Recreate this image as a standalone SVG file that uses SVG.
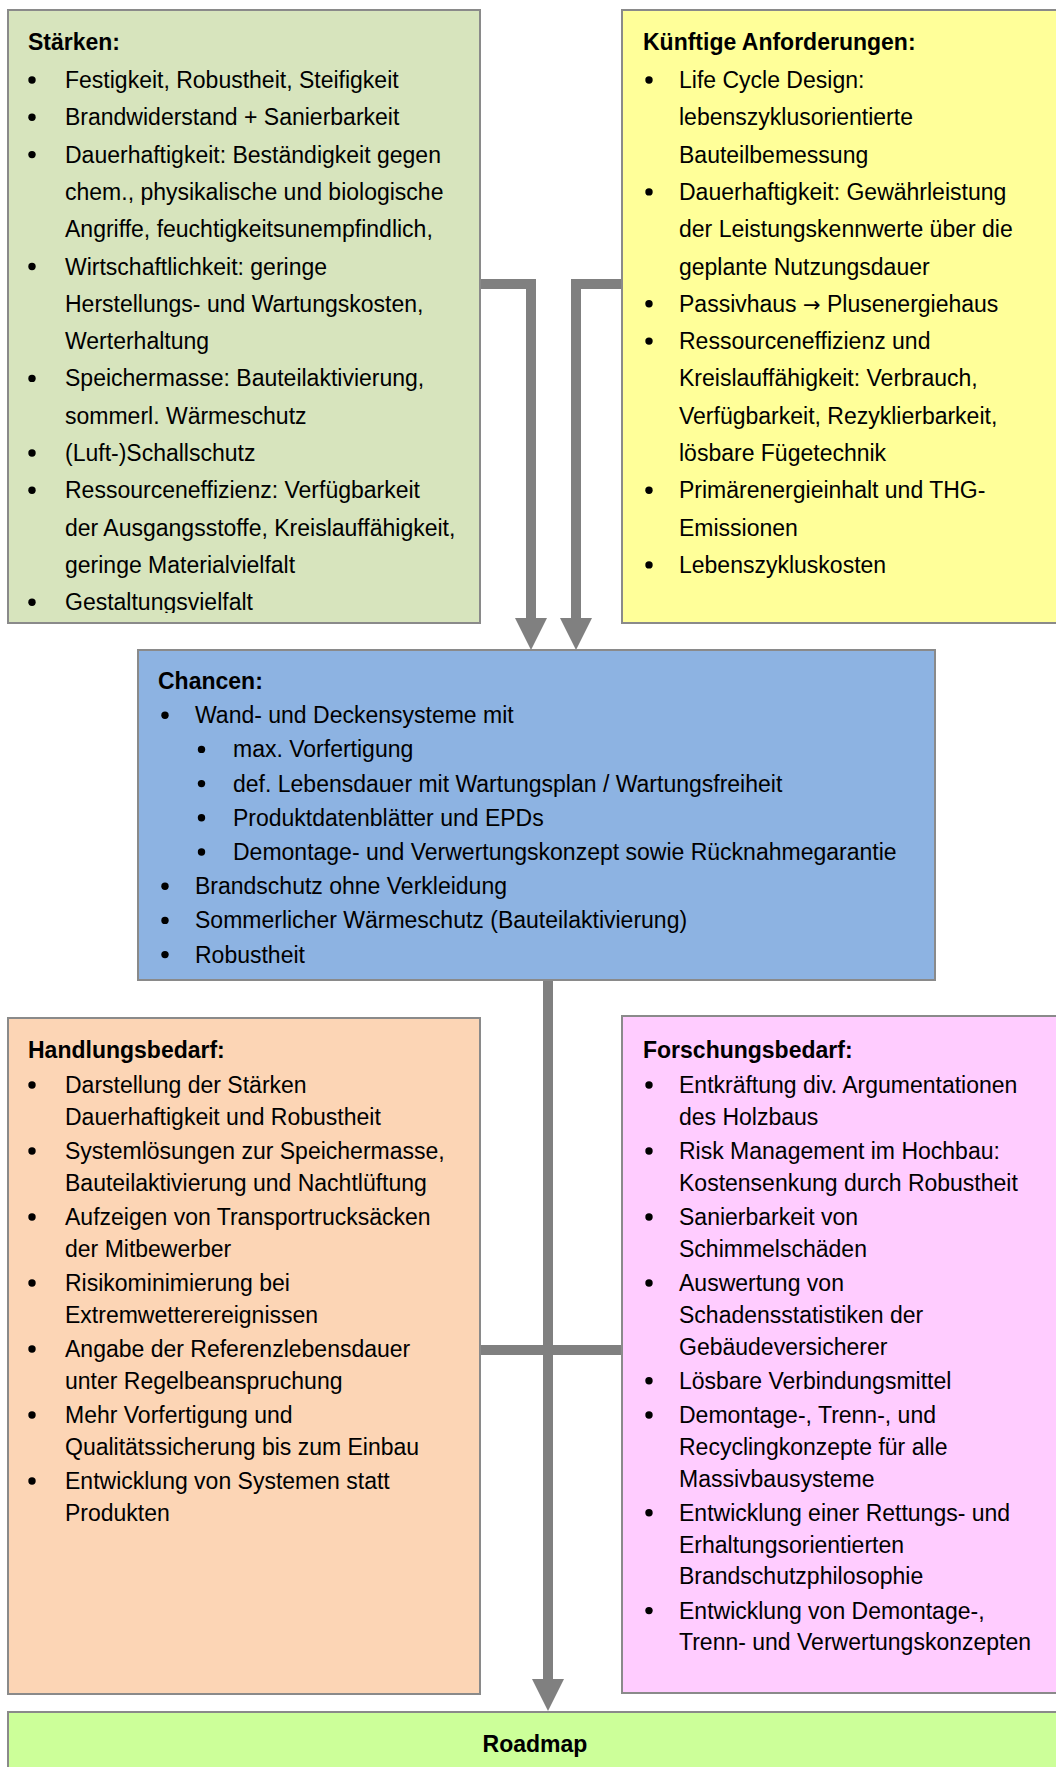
<svg xmlns="http://www.w3.org/2000/svg" width="1056" height="1767" viewBox="0 0 1056 1767">
<style>
.box{stroke:#8a8a8a;stroke-width:2}
.t{font-family:"Liberation Sans",Arial,sans-serif;font-size:23px;fill:#000}
.h{font-family:"Liberation Sans",Arial,sans-serif;font-size:23px;font-weight:bold;fill:#000}
.b{fill:#000}
.con{fill:none;stroke:#808080;stroke-width:10}
.arr{font-family:"DejaVu Sans",sans-serif;font-size:21px}
</style>
<defs>
<marker id="ah" markerUnits="userSpaceOnUse" markerWidth="32" markerHeight="32" viewBox="0 0 32 32" refX="0" refY="16" orient="auto">
<path d="M0,0 L32,16 L0,32 z" fill="#808080"/>
</marker>
<clipPath id="clipG"><rect x="8" y="10" width="472" height="603"/></clipPath>
</defs>
<rect width="1056" height="1767" fill="#fff"/>

<g id="connectors">
<path class="con" d="M480,284 H531 V618" marker-end="url(#ah)"/>
<path class="con" d="M622,284 H576 V618" marker-end="url(#ah)"/>
<path class="con" d="M548,980 V1679" marker-end="url(#ah)"/>
<path class="con" d="M480,1350 H622"/>
</g>

<g id="staerken">
<rect class="box" x="8" y="10" width="472" height="613" fill="#d7e4bd"/>
<text class="h" x="28" y="50">Stärken:</text>
<g clip-path="url(#clipG)">
<g class="b">
<circle cx="32" cy="80" r="3.7"/><circle cx="32" cy="117.3" r="3.7"/><circle cx="32" cy="154.6" r="3.7"/>
<circle cx="32" cy="266.5" r="3.7"/><circle cx="32" cy="378.4" r="3.7"/><circle cx="32" cy="453" r="3.7"/>
<circle cx="32" cy="490.3" r="3.7"/><circle cx="32" cy="602.2" r="3.7"/>
</g>
<text class="t" x="65" y="88">Festigkeit, Robustheit, Steifigkeit</text>
<text class="t" x="65" y="125.3">Brandwiderstand + Sanierbarkeit</text>
<text class="t" x="65" y="162.6">Dauerhaftigkeit: Beständigkeit gegen</text>
<text class="t" x="65" y="199.9">chem., physikalische und biologische</text>
<text class="t" x="65" y="237.2">Angriffe, feuchtigkeitsunempfindlich,</text>
<text class="t" x="65" y="274.5">Wirtschaftlichkeit: geringe</text>
<text class="t" x="65" y="311.8">Herstellungs- und Wartungskosten,</text>
<text class="t" x="65" y="349.1">Werterhaltung</text>
<text class="t" x="65" y="386.4">Speichermasse: Bauteilaktivierung,</text>
<text class="t" x="65" y="423.7">sommerl. Wärmeschutz</text>
<text class="t" x="65" y="461">(Luft-)Schallschutz</text>
<text class="t" x="65" y="498.3">Ressourceneffizienz: Verfügbarkeit</text>
<text class="t" x="65" y="535.6">der Ausgangsstoffe, Kreislauffähigkeit,</text>
<text class="t" x="65" y="572.9">geringe Materialvielfalt</text>
<text class="t" x="65" y="610.2">Gestaltungsvielfalt</text>
</g>
</g>

<g id="anforderungen">
<rect class="box" x="622" y="10" width="440" height="613" fill="#ffff99"/>
<text class="h" x="643" y="50">Künftige Anforderungen:</text>
<g class="b">
<circle cx="649" cy="80" r="3.7"/><circle cx="649" cy="191.9" r="3.7"/><circle cx="649" cy="303.8" r="3.7"/>
<circle cx="649" cy="341.1" r="3.7"/><circle cx="649" cy="490.3" r="3.7"/><circle cx="649" cy="564.9" r="3.7"/>
</g>
<text class="t" x="679" y="88">Life Cycle Design:</text>
<text class="t" x="679" y="125.3">lebenszyklusorientierte</text>
<text class="t" x="679" y="162.6">Bauteilbemessung</text>
<text class="t" x="679" y="199.9">Dauerhaftigkeit: Gewährleistung</text>
<text class="t" x="679" y="237.2">der Leistungskennwerte über die</text>
<text class="t" x="679" y="274.5">geplante Nutzungsdauer</text>
<text class="t" x="679" y="311.8">Passivhaus <tspan class="arr">→</tspan> Plusenergiehaus</text>
<text class="t" x="679" y="349.1">Ressourceneffizienz und</text>
<text class="t" x="679" y="386.4">Kreislauffähigkeit: Verbrauch,</text>
<text class="t" x="679" y="423.7">Verfügbarkeit, Rezyklierbarkeit,</text>
<text class="t" x="679" y="461">lösbare Fügetechnik</text>
<text class="t" x="679" y="498.3">Primärenergieinhalt und THG-</text>
<text class="t" x="679" y="535.6">Emissionen</text>
<text class="t" x="679" y="572.9">Lebenszykluskosten</text>
</g>

<g id="chancen">
<rect class="box" x="138" y="650" width="797" height="330" fill="#8db3e2"/>
<text class="h" x="158" y="689">Chancen:</text>
<g class="b">
<circle cx="165" cy="715.2" r="3.7"/><circle cx="201.5" cy="749.4" r="3.7"/><circle cx="201.5" cy="783.6" r="3.7"/>
<circle cx="201.5" cy="817.8" r="3.7"/><circle cx="201.5" cy="852" r="3.7"/><circle cx="165" cy="886.2" r="3.7"/>
<circle cx="165" cy="920.4" r="3.7"/><circle cx="165" cy="954.6" r="3.7"/>
</g>
<text class="t" x="195" y="723.2">Wand- und Deckensysteme mit</text>
<text class="t" x="233" y="757.4">max. Vorfertigung</text>
<text class="t" x="233" y="791.6">def. Lebensdauer mit Wartungsplan / Wartungsfreiheit</text>
<text class="t" x="233" y="825.8">Produktdatenblätter und EPDs</text>
<text class="t" x="233" y="860">Demontage- und Verwertungskonzept sowie Rücknahmegarantie</text>
<text class="t" x="195" y="894.2">Brandschutz ohne Verkleidung</text>
<text class="t" x="195" y="928.4">Sommerlicher Wärmeschutz (Bauteilaktivierung)</text>
<text class="t" x="195" y="962.6">Robustheit</text>
</g>

<g id="handlungsbedarf">
<rect class="box" x="8" y="1018" width="472" height="676" fill="#fcd5b5"/>
<text class="h" x="28" y="1058">Handlungsbedarf:</text>
<g class="b">
<circle cx="32" cy="1085" r="3.7"/><circle cx="32" cy="1151" r="3.7"/><circle cx="32" cy="1217" r="3.7"/>
<circle cx="32" cy="1283" r="3.7"/><circle cx="32" cy="1349" r="3.7"/><circle cx="32" cy="1415" r="3.7"/>
<circle cx="32" cy="1481" r="3.7"/>
</g>
<text class="t" x="65" y="1093">Darstellung der Stärken</text>
<text class="t" x="65" y="1124.8">Dauerhaftigkeit und Robustheit</text>
<text class="t" x="65" y="1159">Systemlösungen zur Speichermasse,</text>
<text class="t" x="65" y="1190.8">Bauteilaktivierung und Nachtlüftung</text>
<text class="t" x="65" y="1225">Aufzeigen von Transportrucksäcken</text>
<text class="t" x="65" y="1256.8">der Mitbewerber</text>
<text class="t" x="65" y="1291">Risikominimierung bei</text>
<text class="t" x="65" y="1322.8">Extremwetterereignissen</text>
<text class="t" x="65" y="1357">Angabe der Referenzlebensdauer</text>
<text class="t" x="65" y="1388.8">unter Regelbeanspruchung</text>
<text class="t" x="65" y="1423">Mehr Vorfertigung und</text>
<text class="t" x="65" y="1454.8">Qualitätssicherung bis zum Einbau</text>
<text class="t" x="65" y="1489">Entwicklung von Systemen statt</text>
<text class="t" x="65" y="1520.8">Produkten</text>
</g>

<g id="forschungsbedarf">
<rect class="box" x="622" y="1016" width="440" height="677" fill="#ffccff"/>
<text class="h" x="643" y="1058">Forschungsbedarf:</text>
<g class="b">
<circle cx="649" cy="1085" r="3.7"/><circle cx="649" cy="1151" r="3.7"/><circle cx="649" cy="1217" r="3.7"/>
<circle cx="649" cy="1283" r="3.7"/><circle cx="649" cy="1380.8" r="3.7"/><circle cx="649" cy="1415" r="3.7"/>
<circle cx="649" cy="1512.8" r="3.7"/><circle cx="649" cy="1610.6" r="3.7"/>
</g>
<text class="t" x="679" y="1093">Entkräftung div. Argumentationen</text>
<text class="t" x="679" y="1124.8">des Holzbaus</text>
<text class="t" x="679" y="1159">Risk Management im Hochbau:</text>
<text class="t" x="679" y="1190.8">Kostensenkung durch Robustheit</text>
<text class="t" x="679" y="1225">Sanierbarkeit von</text>
<text class="t" x="679" y="1256.8">Schimmelschäden</text>
<text class="t" x="679" y="1291">Auswertung von</text>
<text class="t" x="679" y="1322.8">Schadensstatistiken der</text>
<text class="t" x="679" y="1354.6">Gebäudeversicherer</text>
<text class="t" x="679" y="1388.8">Lösbare Verbindungsmittel</text>
<text class="t" x="679" y="1423">Demontage-, Trenn-, und</text>
<text class="t" x="679" y="1454.8">Recyclingkonzepte für alle</text>
<text class="t" x="679" y="1486.6">Massivbausysteme</text>
<text class="t" x="679" y="1520.8">Entwicklung einer Rettungs- und</text>
<text class="t" x="679" y="1552.6">Erhaltungsorientierten</text>
<text class="t" x="679" y="1584.4">Brandschutzphilosophie</text>
<text class="t" x="679" y="1618.6">Entwicklung von Demontage-,</text>
<text class="t" x="679" y="1650.4">Trenn- und Verwertungskonzepten</text>
</g>

<g id="roadmap">
<rect class="box" x="8" y="1712" width="1054" height="70" fill="#ccff99"/>
<text class="h" x="535" y="1752" text-anchor="middle">Roadmap</text>
</g>
</svg>
